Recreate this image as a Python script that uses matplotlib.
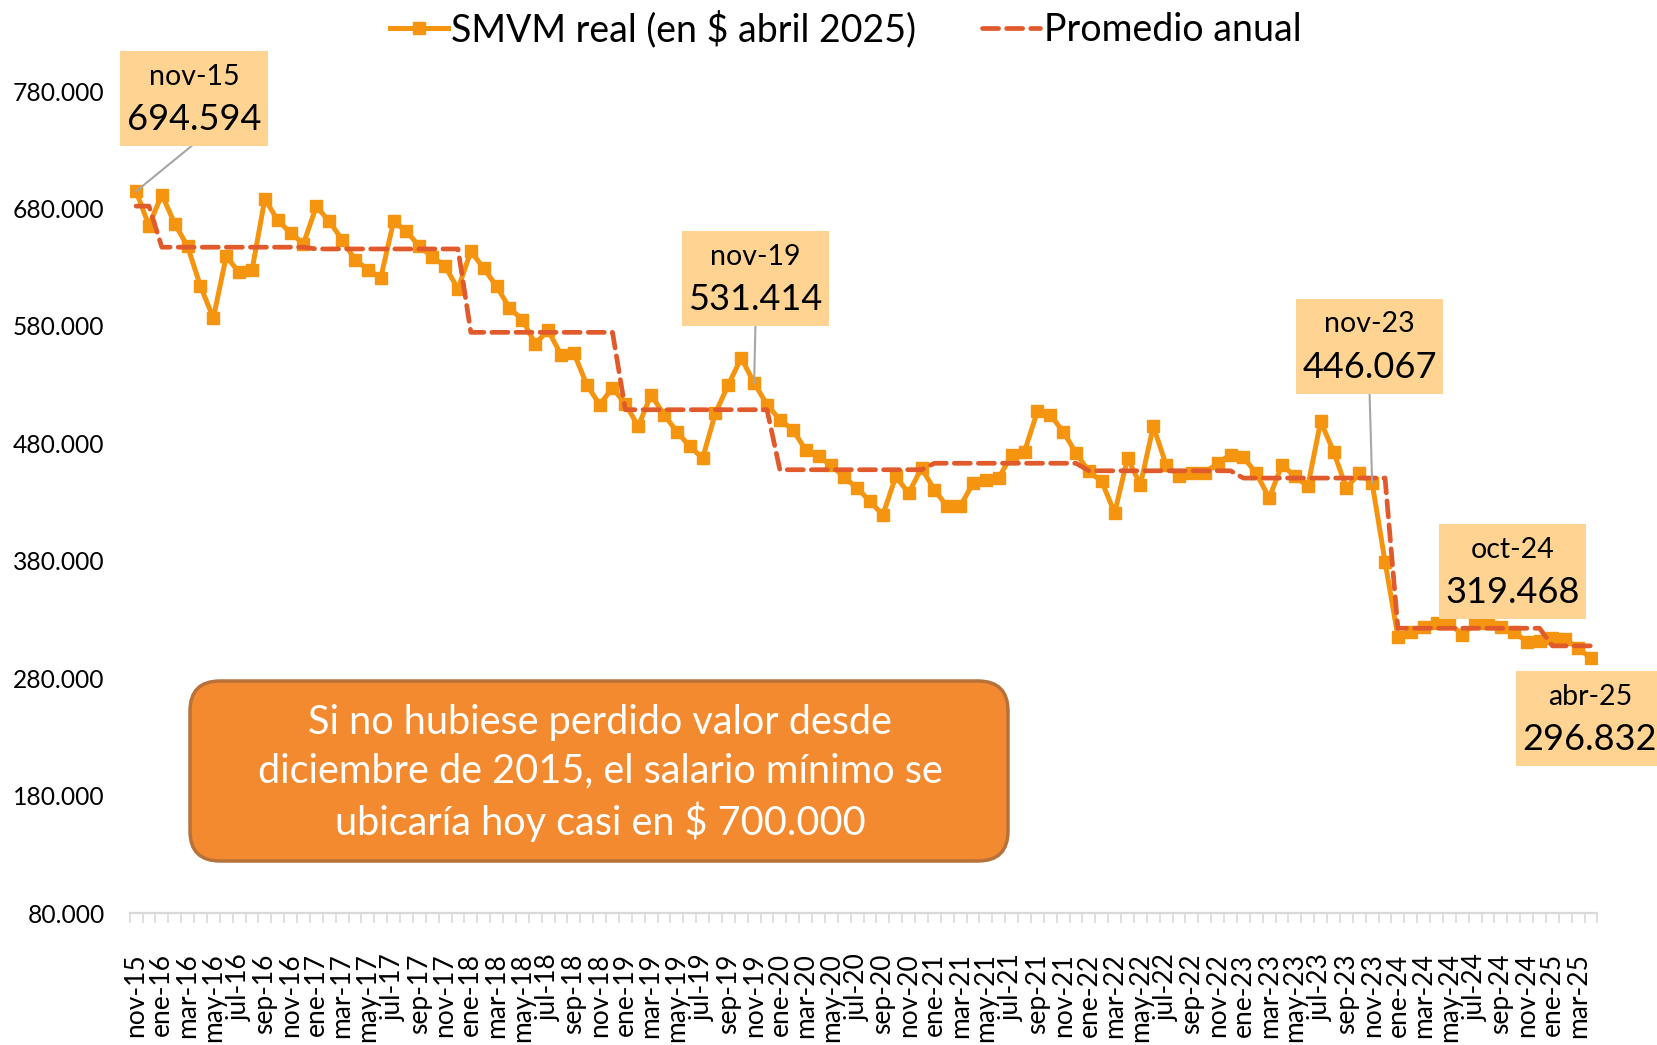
"""Salario mínimo real (SMVM, $ de abril 2025), nov-15 a abr-25, con promedio anual."""

import matplotlib

matplotlib.use("Agg")
import matplotlib.pyplot as plt
import numpy as np
from matplotlib.patches import FancyBboxPatch, Rectangle

plt.rcParams["font.family"] = ["Lato", "DejaVu Sans"]

# --- datos (miles de $ de abril 2025) ---------------------------------------
MESES = ["ene", "feb", "mar", "abr", "may", "jun",
         "jul", "ago", "sep", "oct", "nov", "dic"]
FECHAS = [(m, a) for a in range(2015, 2026) for m in range(12)
          if (a, m) >= (2015, 10) and (a, m) <= (2025, 3)]
ETIQUETAS = [f"{MESES[m]}-{a % 100:02d}" for m, a in FECHAS]

SMVM = [
    694.594, 665.4, 691.8, 667.0, 647.7, 613.7, 586.7, 639.2, 625.6, 627.3,
    688.0, 670.0, 659.0, 650.0, 681.8, 669.0, 653.5, 636.4, 628.0, 620.8,
    669.0, 660.5, 647.7, 639.0, 630.7, 611.4, 643.5, 629.0, 613.7, 595.2,
    585.3, 564.8, 576.2, 555.5, 557.0, 530.0, 512.9, 527.0, 513.7, 494.4,
    521.4, 504.3, 490.0, 477.3, 467.4, 505.8, 530.0, 552.6, 531.414, 512.9,
    500.0, 491.6, 474.5, 468.8, 461.3, 451.0, 441.9, 430.5, 419.0, 451.8,
    437.6, 458.9, 440.4, 426.2, 426.2, 446.1, 449.0, 450.4, 470.3, 473.0,
    507.2, 504.3, 490.0, 471.7, 456.0, 447.5, 420.6, 467.4, 444.7, 494.4,
    461.7, 451.8, 454.6, 455.0, 463.0, 470.3, 468.0, 454.6, 433.4, 461.7,
    451.8, 443.3, 498.6, 473.0, 441.9, 454.6, 446.067, 379.3, 315.4, 319.7,
    323.9, 326.8, 326.8, 316.9, 326.8, 326.8, 323.9, 319.468, 311.2, 311.8,
    314.0, 313.2, 305.6, 296.832,
]
ANIOS = [2015, 2016, 2017, 2018, 2019, 2020, 2021, 2022, 2023, 2024, 2025]
PROMEDIO_ANUAL = [682.0, 647.0, 645.5, 574.5, 508.6, 457.5, 463.0, 456.6, 450.4, 322.5, 307.5]

DESTACADOS = ["nov-15", "nov-19", "nov-23", "oct-24", "abr-25"]

Y_TICKS = [80, 180, 280, 380, 480, 580, 680, 780]

NARANJA = "#F5950F"
ROJO = "#E05A2B"
CAJA = "#FFD493"


def main() -> None:
    x = np.arange(len(SMVM))
    meses_por_anio = [sum(1 for _, a in FECHAS if a == anio) for anio in ANIOS]
    promedio = np.repeat(PROMEDIO_ANUAL, meses_por_anio)

    fig = plt.figure(figsize=(16.58, 10.45), dpi=100)
    ax = fig.add_axes([0.0782, 0.1263, 0.8853, 0.7866])

    ax.plot(x, SMVM, color=NARANJA, lw=3.6, marker="s", ms=9,
            label="SMVM real (en $ abril 2025)", zorder=3)
    ax.plot(x, promedio, color=ROJO, lw=3.4, ls=(0, (3.4, 1.7)),
            dash_capstyle="round", label="Promedio anual", zorder=4)

    ax.set_xlim(-0.5, len(SMVM) - 0.5)
    ax.set_ylim(Y_TICKS[0], Y_TICKS[-1])

    for s in ("top", "right", "left"):
        ax.spines[s].set_visible(False)
    ax.spines["bottom"].set_color("#D9D9D9")
    ax.spines["bottom"].set_linewidth(1.6)

    ax.set_yticks(Y_TICKS)
    ax.set_yticklabels([f"{v}.000" for v in Y_TICKS], fontsize=17.7)
    ax.tick_params(axis="y", length=0, pad=18)

    ax.set_xticks(x[::2])
    ax.set_xticklabels(ETIQUETAS[::2], rotation=90, fontsize=19)
    ax.set_xticks(np.arange(-0.5, len(SMVM)), minor=True)
    ax.tick_params(axis="x", which="major", length=0, pad=29)
    ax.tick_params(axis="x", which="minor", length=7, width=1.2, color="#D9D9D9")

    # recuadros de los meses destacados: (centro x en meses, centro y en miles)
    posiciones = {
        "nov-15": (4.5, 773.6),
        "nov-19": (48.1, 620.2),
        "nov-23": (95.8, 562.7),
        "oct-24": (106.9, 371.0),
        "abr-25": (112.9, 245.8),
    }
    ancho, alto = 11.48, 80.9
    for etiqueta in DESTACADOS:
        i = ETIQUETAS.index(etiqueta)
        cx, cy = posiciones[etiqueta]
        if etiqueta in ("nov-15", "nov-19", "nov-23"):
            ax.plot([cx if etiqueta != "nov-15" else cx - 0.2, x[i]],
                    [cy - alto / 2, SMVM[i]], color="#A6A6A6", lw=1.5,
                    zorder=5, clip_on=False)
        ax.add_patch(Rectangle((cx - ancho / 2, cy - alto / 2), ancho, alto,
                               facecolor=CAJA, edgecolor="none", zorder=6,
                               clip_on=False))
        ax.text(cx, cy + 18.5, etiqueta, ha="center", va="center",
                fontsize=20.5, color="black", zorder=7, clip_on=False)
        ax.text(cx, cy - 18.0, f"{SMVM[i]:.3f}", ha="center", va="center",
                fontsize=26, color="black", zorder=7, clip_on=False)

    # recuadro naranja con el mensaje
    fig.patches.append(FancyBboxPatch(
        (1.90, 1.84), 8.18, 1.80,
        boxstyle="round,pad=0,rounding_size=0.3",
        transform=fig.dpi_scale_trans, facecolor="#F38A2F",
        edgecolor="#B8713A", linewidth=2.5, zorder=8))
    fig.text(6.0 / 16.58, 1 - 7.73 / 10.45,
             "Si no hubiese perdido valor desde\n"
             "diciembre de 2015, el salario mínimo se\n"
             "ubicaría hoy casi en $ 700.000",
             ha="center", va="center", color="white", fontsize=28.5,
             linespacing=1.38, zorder=9)

    fig.legend(loc="center", bbox_to_anchor=(0.510, 0.972), ncol=2,
               frameon=False, fontsize=27, handlelength=1.55,
               handletextpad=0.1, columnspacing=1.75, numpoints=1)

    fig.savefig("out.png", dpi=100)


if __name__ == "__main__":
    main()
